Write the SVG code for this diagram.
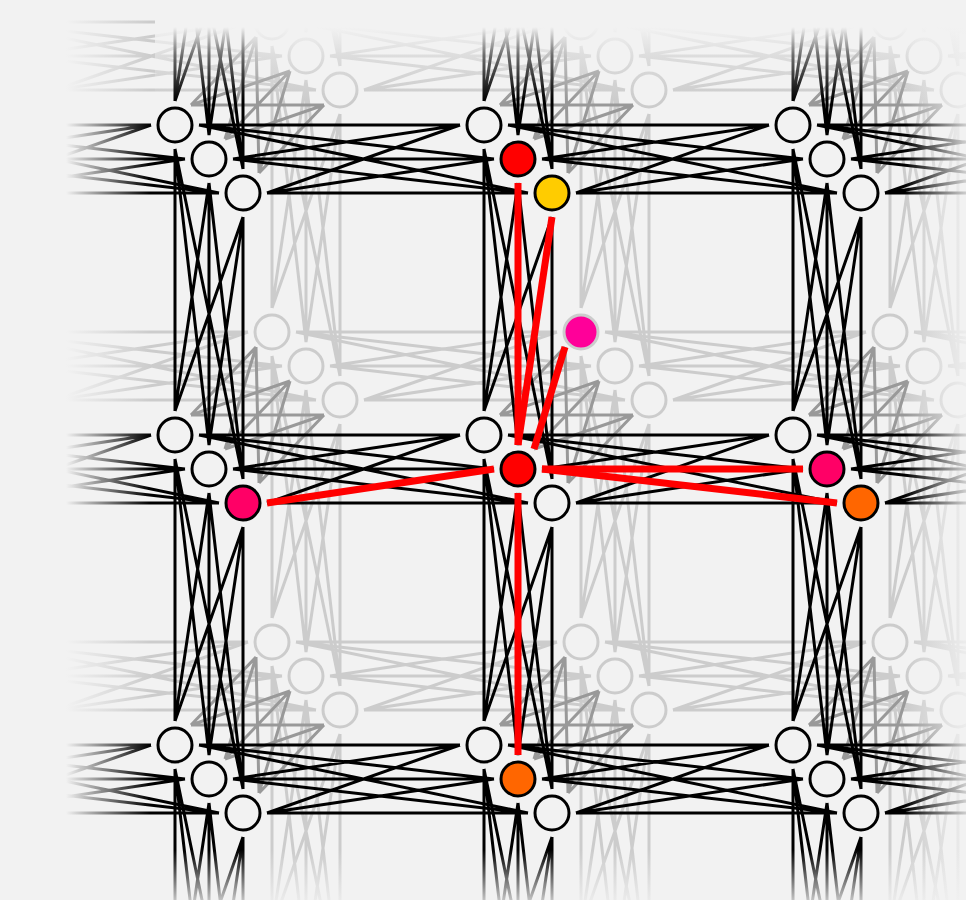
<svg xmlns="http://www.w3.org/2000/svg" xmlns:xlink="http://www.w3.org/1999/xlink" width="966" height="900" viewBox="0 0 966 900">
<style>
.fn{fill:#f2f2f2;stroke:#000;stroke-width:3}
.bn{fill:#f2f2f2;stroke:#ccc;stroke-width:3}
.hl{stroke:#ff0000;stroke-width:7;fill:none}
</style>
<defs>
<path id="hb" d="M24 0L285 0M24 0L319 34M24 0L353 68M58 34L285 0M58 34L319 34M58 34L353 68M92 68L285 0M92 68L319 34M92 68L353 68"/>
<path id="vb" d="M0 24L0 286M0 24L34 320M0 24L68 354M34 58L0 286M34 58L34 320M34 58L68 354M68 92L0 286M68 92L34 320M68 92L68 354"/>
<path id="db" d="M16 -20L81 -88M16 -20L115 -54M16 -20L149 -20M50 14L81 -88M50 14L115 -54M50 14L149 -20M84 48L81 -88M84 48L115 -54M84 48L149 -20"/>
<linearGradient id="fadeL" gradientUnits="userSpaceOnUse" x1="0" y1="0" x2="150" y2="0"><stop offset="0.44" stop-color="#f2f2f2" stop-opacity="1"/><stop offset="1" stop-color="#f2f2f2" stop-opacity="0"/></linearGradient>
<linearGradient id="fadeT" gradientUnits="userSpaceOnUse" x1="0" y1="0" x2="0" y2="100"><stop offset="0.27" stop-color="#f2f2f2" stop-opacity="1"/><stop offset="0.55" stop-color="#f2f2f2" stop-opacity="0.45"/><stop offset="1" stop-color="#f2f2f2" stop-opacity="0"/></linearGradient>
<linearGradient id="fadeR" gradientUnits="userSpaceOnUse" x1="905" y1="0" x2="966" y2="0"><stop offset="0" stop-color="#f2f2f2" stop-opacity="0"/><stop offset="1" stop-color="#f2f2f2" stop-opacity="0.85"/></linearGradient>
<linearGradient id="fadeB" gradientUnits="userSpaceOnUse" x1="0" y1="850" x2="0" y2="900"><stop offset="0" stop-color="#f2f2f2" stop-opacity="0"/><stop offset="1" stop-color="#f2f2f2" stop-opacity="0.8"/></linearGradient>
</defs>
<rect width="966" height="900" fill="#f2f2f2"/>

<g id="back-connectors" stroke="#ccc" stroke-width="3" fill="none">
<use href="#hb" x="-37" y="22"/><use href="#hb" x="272" y="22"/><use href="#hb" x="581" y="22"/><use href="#hb" x="890" y="22"/>
<use href="#hb" x="-37" y="332"/><use href="#hb" x="272" y="332"/><use href="#hb" x="581" y="332"/><use href="#hb" x="890" y="332"/>
<use href="#hb" x="-37" y="642"/><use href="#hb" x="272" y="642"/><use href="#hb" x="581" y="642"/><use href="#hb" x="890" y="642"/>
<use href="#vb" x="272" y="-288"/><use href="#vb" x="272" y="22"/><use href="#vb" x="272" y="332"/><use href="#vb" x="272" y="642"/>
<use href="#vb" x="581" y="-288"/><use href="#vb" x="581" y="22"/><use href="#vb" x="581" y="332"/><use href="#vb" x="581" y="642"/>
<use href="#vb" x="890" y="-288"/><use href="#vb" x="890" y="22"/><use href="#vb" x="890" y="332"/><use href="#vb" x="890" y="642"/>
</g>

<g id="back-nodes">
<g id="b00a"><circle class="bn" cx="272" cy="22" r="17"/></g>
<g id="b00b"><circle class="bn" cx="306" cy="56" r="17"/></g>
<g id="b00c"><circle class="bn" cx="340" cy="90" r="17"/></g>
<g id="b10a"><circle class="bn" cx="581" cy="22" r="17"/></g>
<g id="b10b"><circle class="bn" cx="615" cy="56" r="17"/></g>
<g id="b10c"><circle class="bn" cx="649" cy="90" r="17"/></g>
<g id="b20a"><circle class="bn" cx="890" cy="22" r="17"/></g>
<g id="b20b"><circle class="bn" cx="924" cy="56" r="17"/></g>
<g id="b20c"><circle class="bn" cx="958" cy="90" r="17"/></g>
<g id="b01a"><circle class="bn" cx="272" cy="332" r="17"/></g>
<g id="b01b"><circle class="bn" cx="306" cy="366" r="17"/></g>
<g id="b01c"><circle class="bn" cx="340" cy="400" r="17"/></g>
<g id="b11a"><circle class="bn" cx="581" cy="332" r="17" style="fill:#ff0099"/></g>
<g id="b11b"><circle class="bn" cx="615" cy="366" r="17"/></g>
<g id="b11c"><circle class="bn" cx="649" cy="400" r="17"/></g>
<g id="b21a"><circle class="bn" cx="890" cy="332" r="17"/></g>
<g id="b21b"><circle class="bn" cx="924" cy="366" r="17"/></g>
<g id="b21c"><circle class="bn" cx="958" cy="400" r="17"/></g>
<g id="b02a"><circle class="bn" cx="272" cy="642" r="17"/></g>
<g id="b02b"><circle class="bn" cx="306" cy="676" r="17"/></g>
<g id="b02c"><circle class="bn" cx="340" cy="710" r="17"/></g>
<g id="b12a"><circle class="bn" cx="581" cy="642" r="17"/></g>
<g id="b12b"><circle class="bn" cx="615" cy="676" r="17"/></g>
<g id="b12c"><circle class="bn" cx="649" cy="710" r="17"/></g>
<g id="b22a"><circle class="bn" cx="890" cy="642" r="17"/></g>
<g id="b22b"><circle class="bn" cx="924" cy="676" r="17"/></g>
<g id="b22c"><circle class="bn" cx="958" cy="710" r="17"/></g>
</g>

<g id="depth-connectors" stroke="#999" stroke-width="3" fill="none">
<use href="#db" x="-134" y="125"/><use href="#db" x="175" y="125"/><use href="#db" x="484" y="125"/><use href="#db" x="793" y="125"/>
<use href="#db" x="-134" y="435"/><use href="#db" x="175" y="435"/><use href="#db" x="484" y="435"/><use href="#db" x="793" y="435"/>
<use href="#db" x="-134" y="745"/><use href="#db" x="175" y="745"/><use href="#db" x="484" y="745"/><use href="#db" x="793" y="745"/>
</g>

<g id="front-connectors" stroke="#000" stroke-width="3" fill="none">
<use href="#hb" x="-134" y="125"/><use href="#hb" x="175" y="125"/><use href="#hb" x="484" y="125"/><use href="#hb" x="793" y="125"/>
<use href="#hb" x="-134" y="435"/><use href="#hb" x="175" y="435"/><use href="#hb" x="484" y="435"/><use href="#hb" x="793" y="435"/>
<use href="#hb" x="-134" y="745"/><use href="#hb" x="175" y="745"/><use href="#hb" x="484" y="745"/><use href="#hb" x="793" y="745"/>
<use href="#vb" x="175" y="-185"/><use href="#vb" x="175" y="125"/><use href="#vb" x="175" y="435"/><use href="#vb" x="175" y="745"/>
<use href="#vb" x="484" y="-185"/><use href="#vb" x="484" y="125"/><use href="#vb" x="484" y="435"/><use href="#vb" x="484" y="745"/>
<use href="#vb" x="793" y="-185"/><use href="#vb" x="793" y="125"/><use href="#vb" x="793" y="435"/><use href="#vb" x="793" y="745"/>
</g>

<g id="highlight-connectors">
<path class="hl" d="M518 183L518 445"/>
<path class="hl" d="M552 217L518 445"/>
<path class="hl" d="M565 347L534 449"/>
<path class="hl" d="M267 503L494 469"/>
<path class="hl" d="M542 469L803 469"/>
<path class="hl" d="M542 469L837 503"/>
<path class="hl" d="M518 493L518 755"/>
</g>

<g id="front-nodes">
<g id="f00a"><circle class="fn" cx="175" cy="125" r="17"/></g>
<g id="f00b"><circle class="fn" cx="209" cy="159" r="17"/></g>
<g id="f00c"><circle class="fn" cx="243" cy="193" r="17"/></g>
<g id="f10a"><circle class="fn" cx="484" cy="125" r="17"/></g>
<g id="f10b"><circle class="fn" cx="518" cy="159" r="17" style="fill:#ff0000"/></g>
<g id="f10c"><circle class="fn" cx="552" cy="193" r="17" style="fill:#ffcc00"/></g>
<g id="f20a"><circle class="fn" cx="793" cy="125" r="17"/></g>
<g id="f20b"><circle class="fn" cx="827" cy="159" r="17"/></g>
<g id="f20c"><circle class="fn" cx="861" cy="193" r="17"/></g>
<g id="f01a"><circle class="fn" cx="175" cy="435" r="17"/></g>
<g id="f01b"><circle class="fn" cx="209" cy="469" r="17"/></g>
<g id="f01c"><circle class="fn" cx="243" cy="503" r="17" style="fill:#ff0066"/></g>
<g id="f11a"><circle class="fn" cx="484" cy="435" r="17"/></g>
<g id="f11b"><circle class="fn" cx="518" cy="469" r="17" style="fill:#ff0000"/></g>
<g id="f11c"><circle class="fn" cx="552" cy="503" r="17"/></g>
<g id="f21a"><circle class="fn" cx="793" cy="435" r="17"/></g>
<g id="f21b"><circle class="fn" cx="827" cy="469" r="17" style="fill:#ff0066"/></g>
<g id="f21c"><circle class="fn" cx="861" cy="503" r="17" style="fill:#ff6600"/></g>
<g id="f02a"><circle class="fn" cx="175" cy="745" r="17"/></g>
<g id="f02b"><circle class="fn" cx="209" cy="779" r="17"/></g>
<g id="f02c"><circle class="fn" cx="243" cy="813" r="17"/></g>
<g id="f12a"><circle class="fn" cx="484" cy="745" r="17"/></g>
<g id="f12b"><circle class="fn" cx="518" cy="779" r="17" style="fill:#ff6600"/></g>
<g id="f12c"><circle class="fn" cx="552" cy="813" r="17"/></g>
<g id="f22a"><circle class="fn" cx="793" cy="745" r="17"/></g>
<g id="f22b"><circle class="fn" cx="827" cy="779" r="17"/></g>
<g id="f22c"><circle class="fn" cx="861" cy="813" r="17"/></g>
</g>

<g id="edge-fades">
<rect x="155" y="0" width="811" height="100" fill="url(#fadeT)"/>
<rect x="905" y="0" width="61" height="900" fill="url(#fadeR)"/>
<rect x="0" y="850" width="966" height="50" fill="url(#fadeB)"/>
<rect x="0" y="0" width="150" height="900" fill="url(#fadeL)"/>
</g>
</svg>
